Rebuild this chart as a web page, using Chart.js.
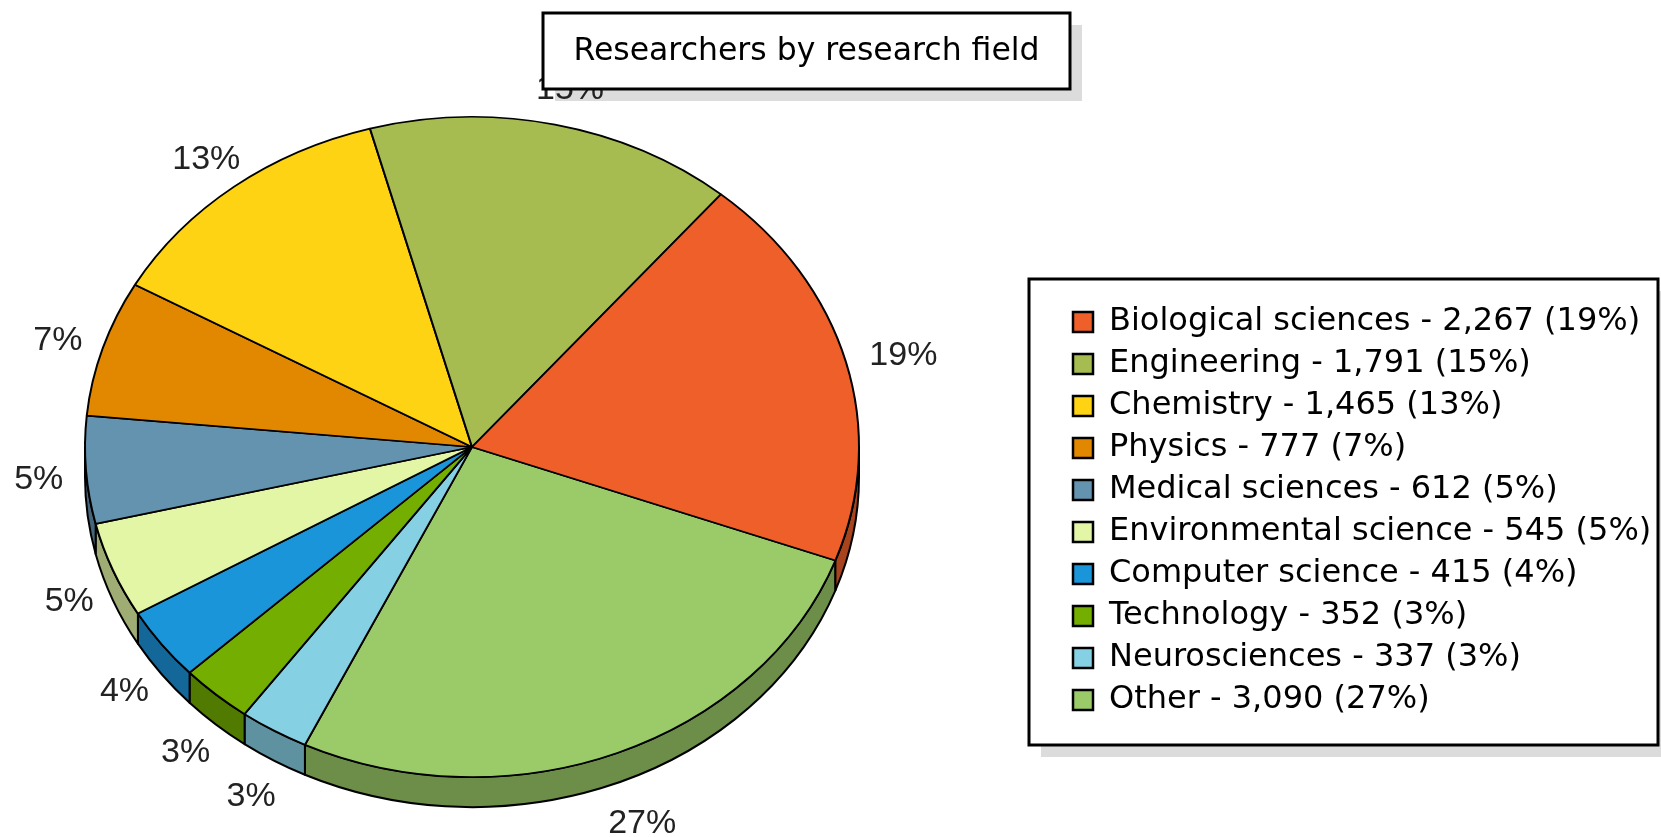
<!DOCTYPE html>
<html>
<head>
<meta charset="utf-8">
<title>Researchers by research field</title>
<script src="https://cdn.jsdelivr.net/npm/chart.js@4.4.1/dist/chart.umd.min.js"></script>
<style>
  html, body { margin: 0; padding: 0; background: #fff; }
  #wrap { width: 1661px; height: 837px; position: relative; }
</style>
</head>
<body>
<div id="wrap"><canvas id="pie_Chart"></canvas></div>
<script>
// data, in legend order
const fields = ['Biological sciences', 'Engineering', 'Chemistry', 'Physics', 'Medical sciences',
  'Environmental science', 'Computer science', 'Technology', 'Neurosciences', 'Other'];
const researchers = [2267, 1791, 1465, 777, 612, 545, 415, 352, 337, 3090];
const colors = ['#ef5f2a', '#a6bc50', '#fed314', '#e28800', '#6493b0',
  '#e3f6a6', '#1b95da', '#74ae00', '#86d0e4', '#9acb68'];
const chartTitle = 'Researchers by research field';

// pie geometry (flattened "3d" look)
const CX = 472, CY = 447, R = 388, SQUASH = 0.853, DEPTH = 30;
const titleBox = { x: 543, y: 13, w: 527, h: 76 };
const legendBox = { x: 1029, y: 279, w: 629, h: 466 };

const total = researchers.reduce((a, b) => a + b, 0);
const pct = v => Math.round(v / total * 100);

function darker(hex, f) {
  const n = parseInt(hex.slice(1), 16);
  const r = Math.round((n >> 16 & 255) * f);
  const g = Math.round((n >> 8 & 255) * f);
  const b = Math.round((n & 255) * f);
  return `rgb(${r},${g},${b})`;
}

function shadow(ctx, box) {
  ctx.fillStyle = '#dcdcdc';
  ctx.fillRect(box.x + 12, box.y + 12, box.w, box.h);
}

function frame(ctx, box) {
  ctx.fillStyle = '#fff';
  ctx.fillRect(box.x, box.y, box.w, box.h);
  ctx.lineWidth = 3;
  ctx.strokeStyle = '#000';
  ctx.strokeRect(box.x, box.y, box.w, box.h);
}

const pie3d = {
  id: 'pie3d',
  afterLayout(chart) {
    // fixed square for the pie, title and legend placed like the original
    chart.chartArea = { left: CX - R, top: CY - R, right: CX + R, bottom: CY + R, width: 2 * R, height: 2 * R };
    const t = chart.titleBlock;
    t.left = titleBox.x; t.right = titleBox.x + titleBox.w; t.top = 33;
    const lg = chart.legend;
    lg.left = 1063; lg.right = 1661; lg.top = 296; lg.bottom = 800;
  },
  beforeDraw(chart) {
    const ctx = chart.ctx;
    const arcs = chart.getDatasetMeta(0).data;
    const vals = chart.data.datasets[0].data;
    ctx.save();
    shadow(ctx, titleBox);
    shadow(ctx, legendBox);
    ctx.font = '34px "Liberation Sans", Arial, sans-serif';
    ctx.fillStyle = '#222';
    ctx.textAlign = 'center';
    ctx.textBaseline = 'middle';
    arcs.forEach((arc, i) => {
      const mid = (arc.startAngle + arc.endAngle) / 2;
      const s = Math.sin(mid), c = Math.cos(mid);
      const lx = arc.x + 1.13 * arc.outerRadius * c + 3 + Math.max(0, c) * 6;
      const ly = arc.y + 1.12 * arc.outerRadius * SQUASH * s + Math.max(0, s) * 33 + 4;
      ctx.fillText(pct(vals[i]) + '%', lx, ly);
    });
    frame(ctx, titleBox);
    frame(ctx, legendBox);
    ctx.restore();
  },
  beforeDatasetsDraw(chart) {
    const ctx = chart.ctx;
    const arcs = chart.getDatasetMeta(0).data;
    const bg = chart.data.datasets[0].backgroundColor;
    // side wall of the front half
    ctx.save();
    ctx.lineWidth = 2;
    ctx.strokeStyle = '#000';
    ctx.lineJoin = 'round';
    arcs.forEach((arc, i) => {
      const r = arc.outerRadius;
      for (let n = -1; n <= 2; n++) {
        const lo = Math.max(arc.startAngle, 2 * Math.PI * n);
        const hi = Math.min(arc.endAngle, 2 * Math.PI * n + Math.PI);
        if (hi <= lo) continue;
        ctx.beginPath();
        ctx.ellipse(arc.x, arc.y, r, r * SQUASH, 0, lo, hi);
        ctx.ellipse(arc.x, arc.y + DEPTH, r, r * SQUASH, 0, hi, lo, true);
        ctx.closePath();
        ctx.fillStyle = darker(bg[i], 0.7);
        ctx.fill();
        ctx.stroke();
      }
    });
    ctx.restore();
    // flatten the top face
    ctx.save();
    ctx.translate(CX, CY);
    ctx.scale(1, SQUASH);
    ctx.translate(-CX, -CY);
  },
  afterDatasetsDraw(chart) {
    chart.ctx.restore();
  }
};

// slices go clockwise in Chart.js, the original runs the other way
const data = {
  labels: fields.slice().reverse(),
  datasets: [{
    data: researchers.slice().reverse(),
    backgroundColor: colors.slice().reverse(),
    borderColor: '#000',
    borderWidth: 2,
    hoverOffset: 0,
    offset: 0
  }]
};

const config = {
  type: 'pie',
  data: data,
  options: {
    responsive: true,
    maintainAspectRatio: false,
    animation: false,
    rotation: 110.1,
    plugins: {
      title: {
        display: true,
        text: chartTitle,
        color: '#000',
        padding: 0,
        font: { family: '"DejaVu Sans"', size: 31.5, weight: 'normal', lineHeight: 1.2 }
      },
      legend: {
        position: 'right',
        align: 'start',
        reverse: true,
        labels: {
          boxWidth: 20,
          boxHeight: 20,
          padding: 10,
          color: '#111',
          font: { family: '"DejaVu Sans"', size: 32 },
          generateLabels(chart) {
            const ds = chart.data.datasets[0];
            return chart.data.labels.map((lab, i) => ({
              text: `${lab} - ${ds.data[i].toLocaleString('en-US')} (${pct(ds.data[i])}%)`,
              fillStyle: ds.backgroundColor[i],
              strokeStyle: '#000',
              lineWidth: 2.5,
              hidden: false,
              index: i
            }));
          }
        }
      },
      tooltip: { enabled: false }
    }
  },
  plugins: [pie3d]
};

const chartCanvas = document.getElementById('pie_Chart');
const myChart = new Chart(chartCanvas, config);
</script>
</body>
</html>
